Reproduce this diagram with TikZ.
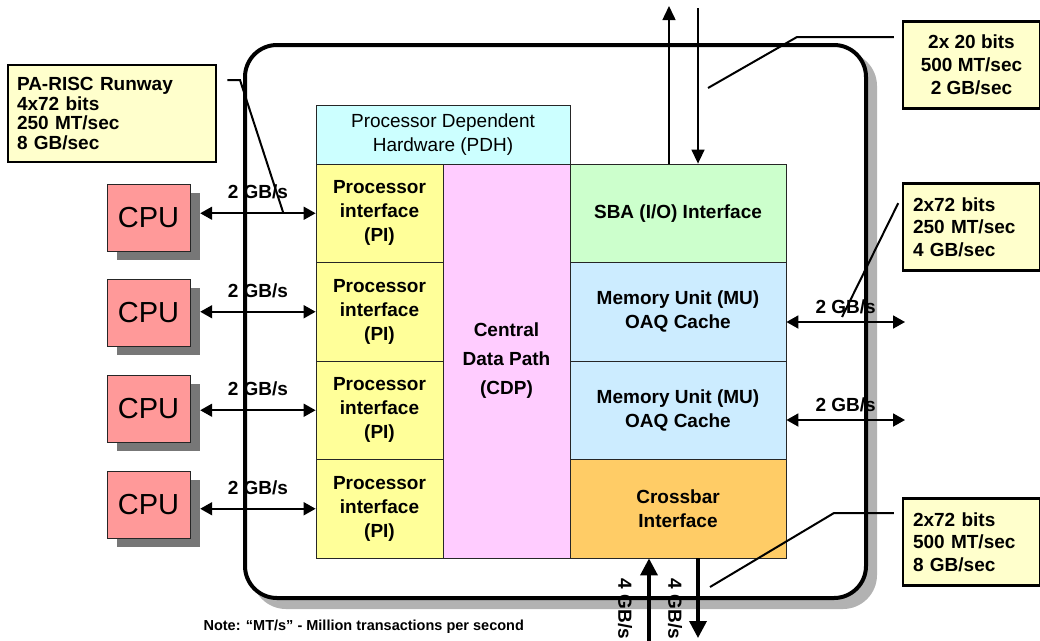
\documentclass[tikz,border=0pt]{standalone}
\usepackage{fontspec}
\setmainfont{Liberation Sans}
\usetikzlibrary{arrows.meta, positioning, calc}
\definecolor{cpucolor}{RGB}{255, 153, 153}
\definecolor{cpushade}{RGB}{119, 119, 119}
\definecolor{chipshade}{RGB}{178, 178, 178}
\definecolor{pdhcolor}{RGB}{204, 255, 255}
\definecolor{picolor}{RGB}{255, 255, 153}
\definecolor{cdpcolor}{RGB}{255, 204, 255}
\definecolor{sbacolor}{RGB}{204, 255, 204}
\definecolor{mucolor}{RGB}{204, 236, 255}
\definecolor{xbarcolor}{RGB}{255, 204, 102}
\definecolor{calloutcolor}{RGB}{255, 255, 204}
\newcommand{\boldlabel}{\fontsize{19}{24}\selectfont\bfseries}

\begin{document}
\begin{tikzpicture}[
    x=1pt, y=-1pt,
    chip/.style={draw, line width=4pt, rounded corners=32pt, minimum width=621pt, minimum height=553pt},
    unit/.style={draw=black!85, line width=0.8pt, minimum width=127pt, minimum height=98.5pt, align=center, font=\boldlabel},
    cpu/.style={draw=black!85, line width=0.8pt, fill=cpucolor, minimum width=83pt, minimum height=67pt, font=\fontsize{29}{30}\selectfont},
    cpushadow/.style={fill=cpushade, minimum width=83pt, minimum height=67pt},
    callout/.style={draw, line width=2.5pt, fill=calloutcolor, minimum width=137pt, minimum height=87pt},
    leader/.style={line width=2pt},
    arrow/.style={{Triangle[length=12pt,width=13pt]}-{Triangle[length=12pt,width=13pt]}, line width=1.8pt},
    thinarrow/.style={-{Triangle[length=14pt,width=13pt]}, line width=1.5pt},
    bigarrow/.style={-{Triangle[length=17pt,width=17pt]}, line width=3.5pt},
    rate/.style={font=\boldlabel, inner sep=2pt}
]
    \useasboundingbox (0,0) rectangle (1040,640);

    % Chip outline
    \node[chip, draw=chipshade, fill=chipshade] (chipshadow) at (564.5, 330.5) {};
    \node[chip, fill=white] (chip) at (555.5, 321.5) {};

    % Chip units
    \node[unit, fill=pdhcolor, minimum width=254pt, minimum height=59pt, font=\fontsize{19}{24}\selectfont] (pdh) at (443, 134.5) {Processor Dependent\\Hardware (PDH)};
    \node[unit, fill=picolor] (pi1) at (379.5, 213.25) {Processor\\interface\\(PI)};
    \node[unit, fill=picolor] (pi2) at (379.5, 311.75) {Processor\\interface\\(PI)};
    \node[unit, fill=picolor] (pi3) at (379.5, 410.25) {Processor\\interface\\(PI)};
    \node[unit, fill=picolor] (pi4) at (379.5, 508.75) {Processor\\interface\\(PI)};
    \node[unit, fill=cdpcolor, minimum height=394pt, font=\fontsize{19}{29}\selectfont\bfseries] (cdp) at (506.5, 361) {Central\\Data Path\\(CDP)};
    \node[unit, fill=sbacolor, minimum width=216pt] (sba) at (678, 213.25) {SBA (I/O) Interface};
    \node[unit, fill=mucolor, minimum width=216pt] (mu1) at (678, 311.75) {Memory Unit (MU)\\OAQ Cache};
    \node[unit, fill=mucolor, minimum width=216pt] (mu2) at (678, 410.25) {Memory Unit (MU)\\OAQ Cache};
    \node[unit, fill=xbarcolor, minimum width=216pt] (xbar) at (678, 508.75) {Crossbar\\Interface};

    % CPUs
    \node[cpushadow] (cpu1s) at (158.5, 226) {};
    \node[cpu] (cpu1) at (148.5, 218) {CPU};
    \node[cpushadow] (cpu2s) at (158.5, 321) {};
    \node[cpu] (cpu2) at (148.5, 313) {CPU};
    \node[cpushadow] (cpu3s) at (158.5, 417) {};
    \node[cpu] (cpu3) at (148.5, 409) {CPU};
    \node[cpushadow] (cpu4s) at (158.5, 513) {};
    \node[cpu] (cpu4) at (148.5, 505) {CPU};

    % Processor links
    \draw[arrow] (cpu1s.east |- pi1.west) -- (pi1.west) node[rate, midway, above=11pt] {2 GB/s};
    \draw[arrow] (cpu2s.east |- pi2.west) -- (pi2.west) node[rate, midway, above=11pt] {2 GB/s};
    \draw[arrow] (cpu3s.east |- pi3.west) -- (pi3.west) node[rate, midway, above=11pt] {2 GB/s};
    \draw[arrow] (cpu4s.east |- pi4.west) -- (pi4.west) node[rate, midway, above=11pt] {2 GB/s};

    % Memory links
    \coordinate (mem1) at (905, 322);
    \coordinate (mem2) at (905, 420);
    \draw[arrow] (mem1 -| mu1.east) -- (mem1) node[rate, midway, above=5pt] {2 GB/s};
    \draw[arrow] (mem2 -| mu2.east) -- (mem2) node[rate, midway, above=5pt] {2 GB/s};

    % I/O links
    \coordinate (sbaup) at (669, 6);
    \coordinate (sbadown) at (698, 8);
    \draw[thinarrow] (sbaup |- sba.north) -- (sbaup);
    \draw[thinarrow] (sbadown) -- (sbadown |- sba.north);

    % Crossbar links
    \coordinate (xbarup) at (649, 645);
    \coordinate (xbardown) at (698, 638);
    \draw[bigarrow] (xbarup) -- (xbarup |- xbar.south);
    \draw[bigarrow] (xbardown |- xbar.south) -- (xbardown);
    \node[rate, rotate=-90] (xbarinrate) at (625, 609) {4 GB/s};
    \node[rate, rotate=-90] (xbaroutrate) at (675, 609) {4 GB/s};

    % Callouts
    \node[callout, minimum width=208pt, minimum height=97pt, text width=190pt, align=left, font=\fontsize{19}{19.5}\selectfont\bfseries] (runway) at (112, 113.5) {PA-RISC Runway\\4x72 bits\\250 MT/sec\\8 GB/sec};
    \node[callout, align=center, font=\fontsize{19}{23}\selectfont\bfseries] (sbanote) at (971.5, 65) {2x 20 bits\\500 MT/sec\\2 GB/sec};
    \node[callout, text width=117pt, align=left, font=\fontsize{19}{22.5}\selectfont\bfseries] (munote) at (971.5, 227) {2x72 bits\\250 MT/sec\\4 GB/sec};
    \node[callout, text width=117pt, align=left, font=\fontsize{19}{22.5}\selectfont\bfseries] (xbarnote) at (971.5, 542) {2x72 bits\\500 MT/sec\\8 GB/sec};

    % Leader lines
    \coordinate (runwaybend) at (240, 80);
    \coordinate (runwaytip) at (283, 212);
    \coordinate (sbabend) at (797, 37);
    \coordinate (sbatip) at (708, 88);
    \coordinate (mutip) at (842, 317);
    \coordinate (xbarbend) at (834, 513);
    \coordinate (xbartip) at (710, 587);
    \draw[leader, shorten <=10pt] (runway.east |- runwaybend) -- (runwaybend) -- (runwaytip);
    \draw[leader, shorten <=8pt] (sbanote.west |- sbabend) -- (sbabend) -- (sbatip);
    \draw[leader, shorten <=8pt] ([yshift=31pt]munote.west) -- (mutip);
    \draw[leader, shorten <=8pt] (xbarnote.west |- xbarbend) -- (xbarbend) -- (xbartip);

    % Footnote
    \node[anchor=west, font=\fontsize{14.5}{16}\selectfont\bfseries] (note) at (200, 627) {Note: “MT/s” - Million transactions per second};
\end{tikzpicture}
\end{document}
